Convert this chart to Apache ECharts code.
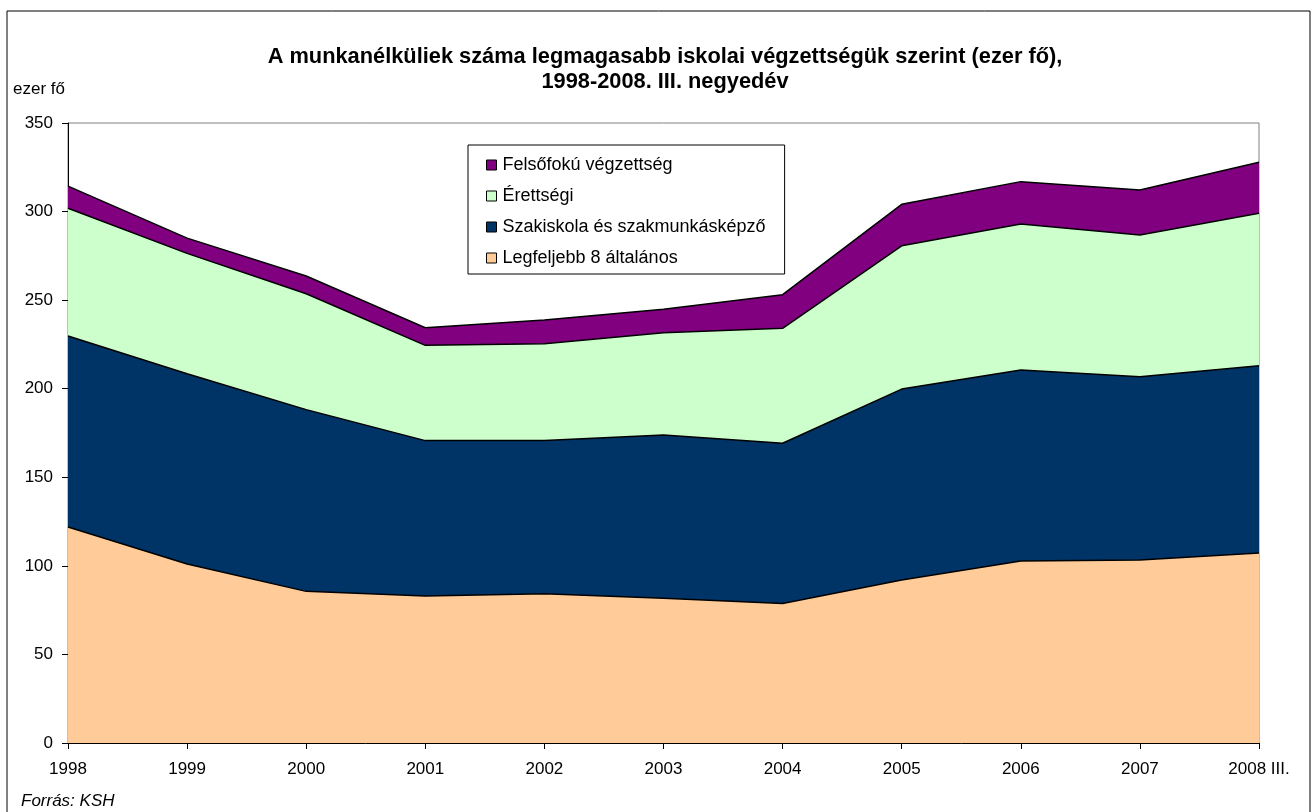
<!DOCTYPE html>
<html>
<head>
<meta charset="utf-8">
<script src="https://cdn.jsdelivr.net/npm/echarts@6/dist/echarts.min.js"></script>
<style>
	html, body { margin: 0; padding: 0; background: #fff; }
	#chart { width: 1312px; height: 812px; }
</style>
</head>
<body>
<div id="chart"></div>
<script>
	// evek (x tengely)
	var years = ['1998', '1999', '2000', '2001', '2002', '2003', '2004', '2005', '2006', '2007', '2008 III.'];
	// ezer fo, leolvasva az abrarol
	var legfeljebb8 = [121.9, 101.0, 85.6, 83.0, 84.3, 81.7, 78.8, 92.0, 102.7, 103.3, 107.3];
	var szakiskola = [107.9, 107.4, 102.6, 87.7, 86.4, 92.2, 90.4, 107.8, 107.9, 103.5, 105.7];
	var erettsegi = [72.1, 68.0, 65.4, 53.8, 54.7, 57.7, 64.9, 80.9, 82.4, 80.0, 86.0];
	var felsofoku = [12.5, 8.6, 10.0, 9.9, 13.4, 13.2, 19.0, 23.4, 23.9, 25.4, 28.8];
	var yTicks = [0, 50, 100, 150, 200, 250, 300, 350];

	var font = 'Arial, "Liberation Sans", sans-serif';

	function areaSeries(name, data, color) {
		return {
			name: name,
			type: 'line',
			stack: 'osszes',
			data: data,
			symbol: 'none',
			lineStyle: { color: '#000', width: 1.5 },
			itemStyle: { color: color },
			areaStyle: { color: color, opacity: 1 },
			emphasis: { disabled: true }
		};
	}

	var mychart = echarts.init(document.getElementById('chart'));
	mychart.setOption({
		animation: false,
		textStyle: { fontFamily: font },
		title: {
			text: 'A munkanélküliek száma legmagasabb iskolai végzettségük szerint (ezer fő),\n1998-2008. III. negyedév',
			left: 660,
			top: 39,
			textAlign: 'center',
			textStyle: {
				fontFamily: font,
				fontSize: 21.8,
				fontWeight: 'bold',
				color: '#000',
				lineHeight: 25
			}
		},
		legend: {
			data: ['Felsőfokú végzettség', 'Érettségi', 'Szakiskola és szakmunkásképző', 'Legfeljebb 8 általános'],
			orient: 'vertical',
			left: 468,
			top: 145,
			padding: [11, 19, 7, 18],
			itemGap: 13,
			itemWidth: 10,
			itemHeight: 10,
			icon: 'rect',
			borderColor: '#000',
			borderWidth: 1,
			itemStyle: { borderColor: '#000', borderWidth: 1 },
			textStyle: { fontFamily: font, fontSize: 18, lineHeight: 18, color: '#000', padding: [0, 0, 0, 1] }
		},
		grid: {
			left: 68,
			right: 53,
			top: 123,
			bottom: 69,
			show: true,
			borderColor: '#808080',
			borderWidth: 1
		},
		xAxis: {
			type: 'category',
			boundaryGap: false,
			data: years,
			axisLine: { lineStyle: { color: '#000', width: 1 } },
			axisTick: { alignWithLabel: true, length: 6, lineStyle: { color: '#000' } },
			axisLabel: { fontSize: 17, color: '#000', margin: 18, fontFamily: font }
		},
		yAxis: {
			type: 'value',
			min: yTicks[0],
			max: yTicks[yTicks.length - 1],
			interval: 50,
			splitLine: { show: false },
			axisLine: { show: true, lineStyle: { color: '#000', width: 1 } },
			axisTick: { show: true, length: 6, lineStyle: { color: '#000' } },
			axisLabel: { fontSize: 17, color: '#000', margin: 15, fontFamily: font }
		},
		graphic: [
			{
				type: 'rect',
				shape: { x: 7, y: 11, width: 1303, height: 810 },
				style: { fill: null, stroke: '#000', lineWidth: 1 },
				silent: true
			},
			{
				type: 'text',
				left: 13,
				top: 81,
				style: { text: 'ezer fő', fontSize: 17, fill: '#000', fontFamily: font }
			},
			{
				type: 'text',
				left: 21,
				top: 793,
				style: { text: 'Forrás: KSH', fontSize: 17, fontStyle: 'italic', fill: '#000', fontFamily: font }
			}
		],
		series: [
			areaSeries('Legfeljebb 8 általános', legfeljebb8, '#FFCC99'),
			areaSeries('Szakiskola és szakmunkásképző', szakiskola, '#003366'),
			areaSeries('Érettségi', erettsegi, '#CCFFCC'),
			areaSeries('Felsőfokú végzettség', felsofoku, '#800080')
		]
	});
</script>
</body>
</html>
